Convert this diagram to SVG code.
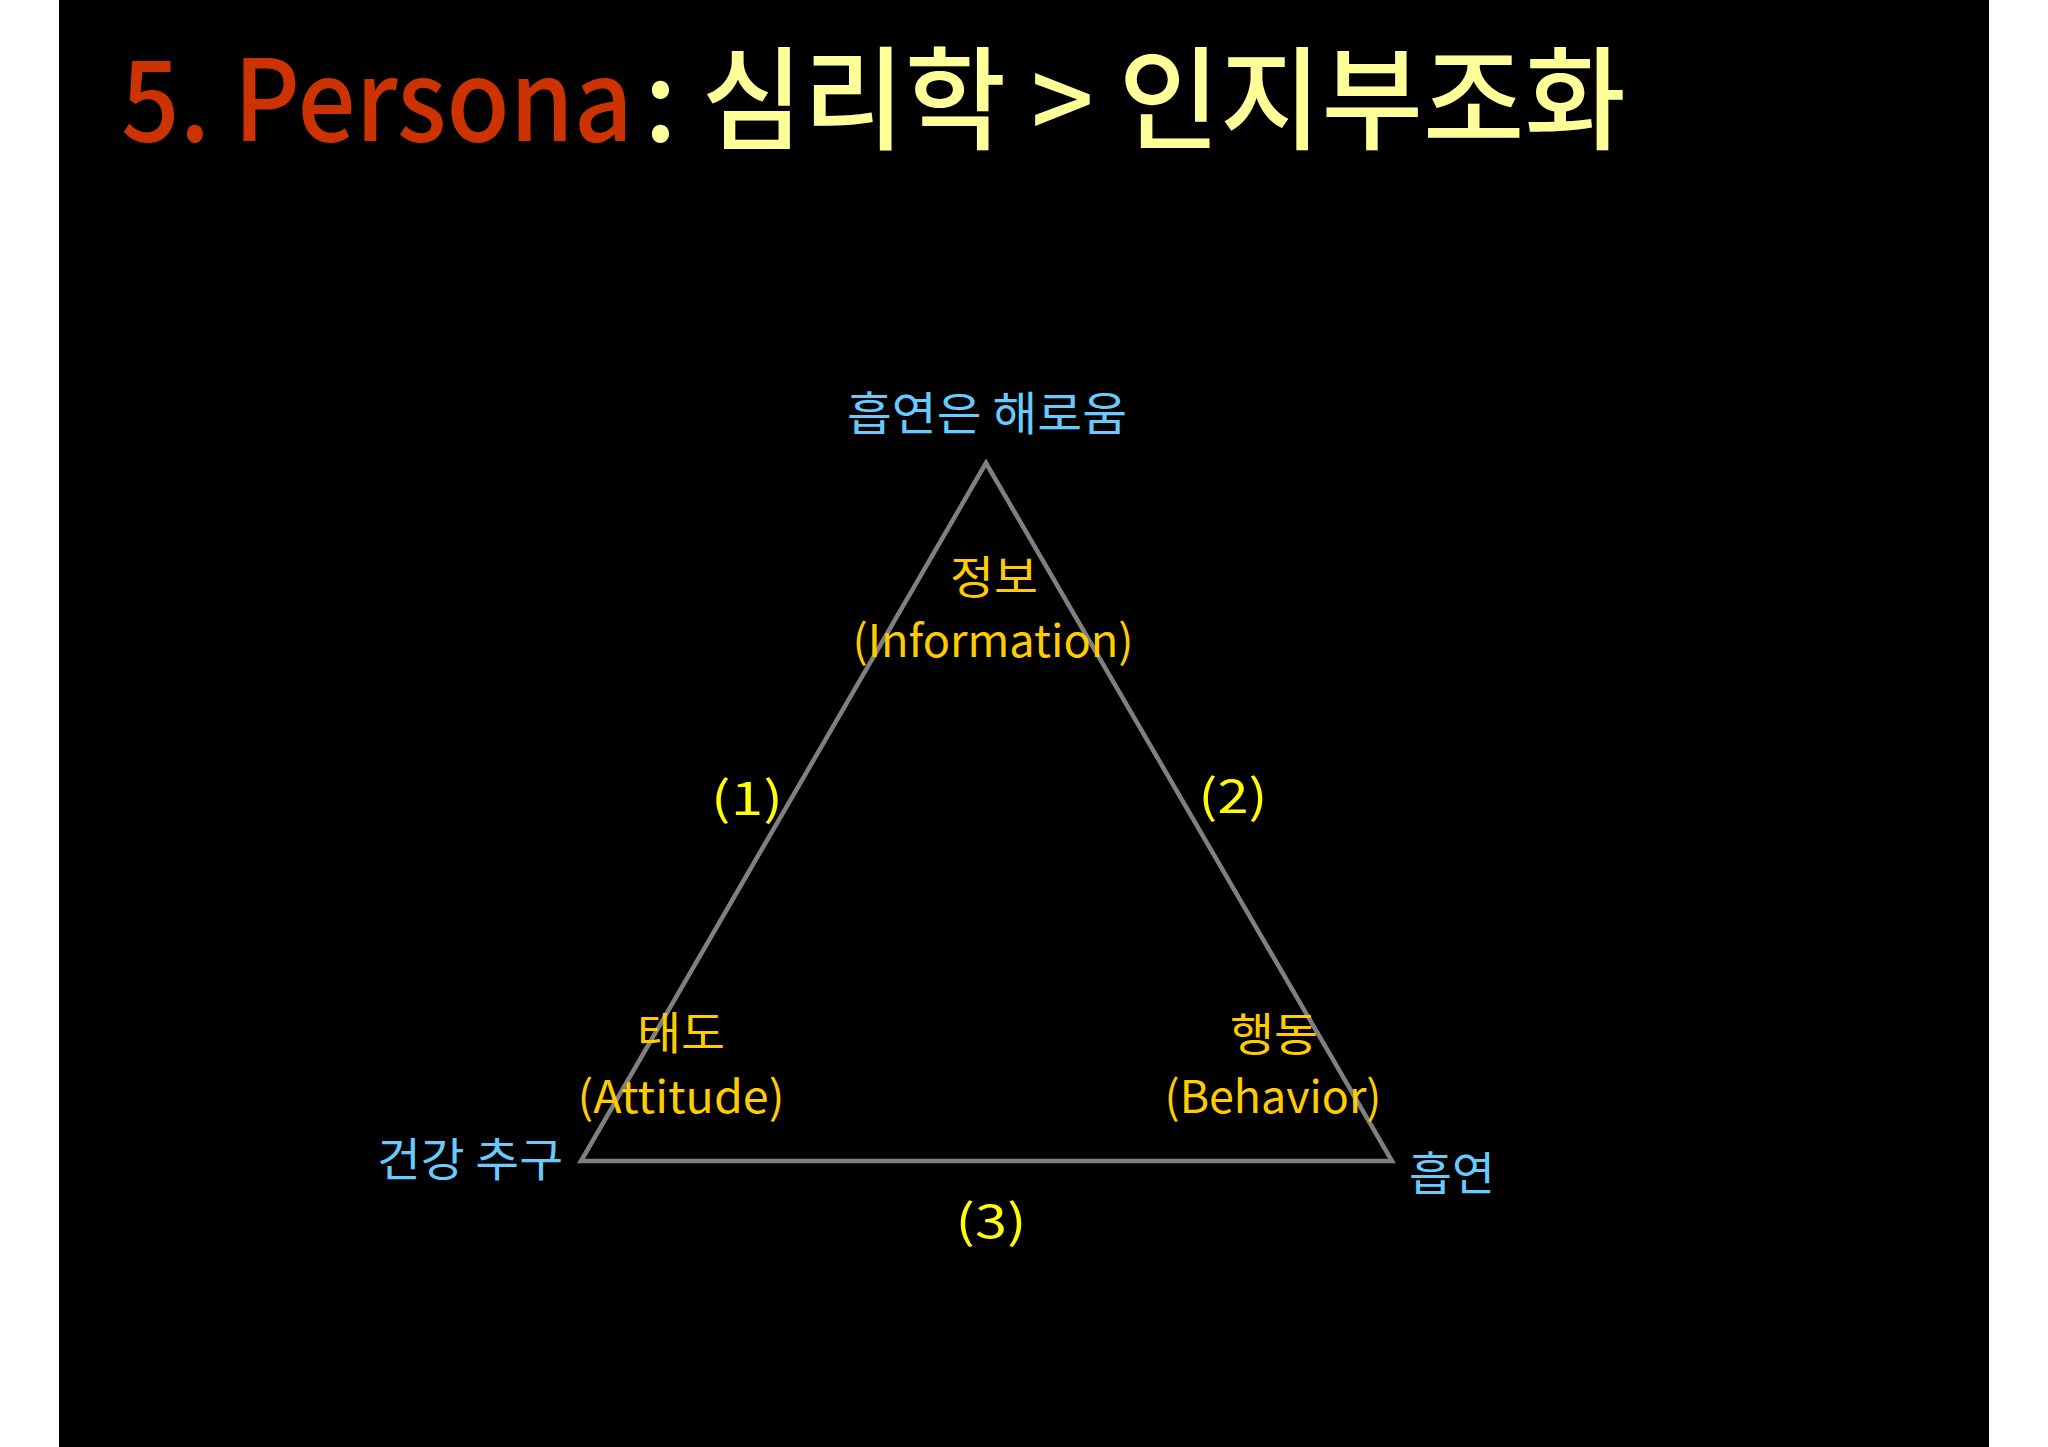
<svg xmlns="http://www.w3.org/2000/svg" width="2048" height="1447" viewBox="0 0 2048 1447">
  <style>
    text { font-family: "Noto Sans CJK KR", "Noto Sans", sans-serif; }
    .title { font-size: 112px; font-weight: 500; }
    .red { fill: #cc3300; }
    .pale { fill: #ffff99; }
    .blue { fill: #66ccff; font-size: 46px; text-anchor: middle; }
    .lab { fill: #ffcc00; font-size: 45px; text-anchor: middle; }
    .num { fill: #ffff00; font-size: 46px; text-anchor: middle; }
    .edge { fill: none; stroke: #808080; stroke-width: 4.5; stroke-linejoin: miter; }
  </style>
  <rect x="0" y="0" width="2048" height="1447" fill="#ffffff"/>
  <rect x="59" y="0" width="1930" height="1447" fill="#000000"/>

  <g id="title">
    <text class="title red" x="121" y="141" textLength="512" lengthAdjust="spacingAndGlyphs">5. Persona</text>
    <text class="title pale" x="644" y="141" textLength="982" lengthAdjust="spacingAndGlyphs">: 심리학 &gt; 인지부조화</text>
  </g>

  <g id="connectors">
    <polygon class="edge" points="986,463 581,1161 1392,1161"/>
  </g>

  <g id="node-top">
    <text class="blue" x="987" y="430" textLength="280" lengthAdjust="spacingAndGlyphs">흡연은 해로움</text>
  </g>
  <g id="node-information">
    <text class="lab" x="994" y="594" textLength="88" lengthAdjust="spacingAndGlyphs">정보</text>
    <text class="lab" x="993" y="657" textLength="281" lengthAdjust="spacingAndGlyphs">(Information)</text>
  </g>
  <g id="node-attitude">
    <text class="lab" x="681" y="1050" textLength="88" lengthAdjust="spacingAndGlyphs">태도</text>
    <text class="lab" x="681" y="1113" textLength="207" lengthAdjust="spacingAndGlyphs">(Attitude)</text>
  </g>
  <g id="node-behavior">
    <text class="lab" x="1274" y="1051" textLength="88" lengthAdjust="spacingAndGlyphs">행동</text>
    <text class="lab" x="1273" y="1113" textLength="217" lengthAdjust="spacingAndGlyphs">(Behavior)</text>
  </g>
  <g id="node-health">
    <text class="blue" x="470" y="1176" textLength="186" lengthAdjust="spacingAndGlyphs">건강 추구</text>
  </g>
  <g id="node-smoking">
    <text class="blue" x="1452" y="1190" textLength="86" lengthAdjust="spacingAndGlyphs">흡연</text>
  </g>
  <g id="edge-labels">
    <text class="num" x="747" y="815" textLength="72" lengthAdjust="spacingAndGlyphs">(1)</text>
    <text class="num" x="1233" y="813" textLength="69" lengthAdjust="spacingAndGlyphs">(2)</text>
    <text class="num" x="991" y="1238" textLength="71" lengthAdjust="spacingAndGlyphs">(3)</text>
  </g>
</svg>
